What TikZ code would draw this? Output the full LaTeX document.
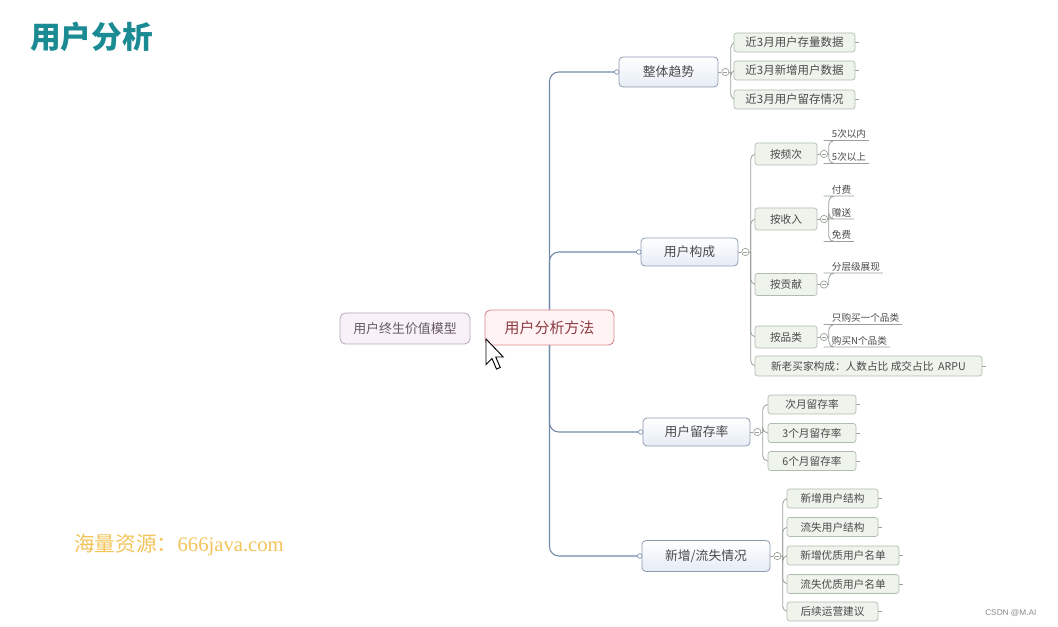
\documentclass[tikz,border=0pt]{standalone}
\usepackage{fontspec}
\setmainfont{Noto Sans CJK SC}
\newfontfamily\wmlatin{Liberation Serif}
\newfontfamily\csdnfont{Liberation Sans}
\usetikzlibrary{backgrounds}
\definecolor{titlec}{HTML}{1A8A93}
\definecolor{trunkc}{HTML}{7389A8}
\definecolor{mainb}{HTML}{8E9CB3}
\definecolor{mainf}{HTML}{E6ECF5}
\definecolor{leafb}{HTML}{AEBDAE}
\definecolor{leaff}{HTML}{EEF3EC}
\definecolor{linkc}{HTML}{98A298}
\definecolor{txt}{HTML}{4A4A4A}
\definecolor{rootb}{HTML}{D98A8F}
\definecolor{rootf}{HTML}{FFF3F3}
\definecolor{roott}{HTML}{8E3C44}
\definecolor{lvmb}{HTML}{B7A8BD}
\definecolor{lvmf}{HTML}{F8F1F8}
\definecolor{lvmt}{HTML}{665868}
\definecolor{wmk}{HTML}{F2C45A}
\tikzset{
  x=0.75pt, y=-0.75pt,
  mainbox/.style={draw=mainb, line width=0.6pt, rounded corners=3pt, top color=white, bottom color=mainf,
    inner sep=0pt, text=txt, font=\fontsize{9.6}{11}\selectfont},
  leafbox/.style={draw=leafb, line width=0.5pt, rounded corners=2pt, fill=leaff, inner sep=0pt,
    minimum height=14.25pt, text=txt, font=\fontsize{8}{9}\selectfont},
  subbox/.style={leafbox, minimum width=46.5pt, minimum height=16.5pt},
  sublabel/.style={anchor=south west, inner xsep=2pt, inner ysep=1.2pt, text=txt, font=\fontsize{7.2}{8}\selectfont},
  trunk/.style={draw=trunkc, line width=0.8pt, rounded corners=7pt},
  link/.style={draw=linkc, line width=0.6pt, rounded corners=4pt},
  knob/.style={circle, draw=linkc, line width=0.5pt, fill=white, inner sep=0pt, minimum size=5.5pt,
    path picture={\draw[linkc, line width=0.5pt] ([xshift=1.3pt]path picture bounding box.west) -- ([xshift=-1.3pt]path picture bounding box.east);}},
  dotend/.style={circle, draw=trunkc, line width=0.5pt, fill=white, inner sep=0pt, minimum size=3.5pt},
}
\begin{document}
\begin{tikzpicture}
\useasboundingbox (0,0) rectangle (1058,627);

% title
\node[anchor=west, inner sep=0pt, text=titlec, font=\fontsize{23}{25}\selectfont\bfseries] (title) at (30,37) {用户分析};

% left and root
\node[draw=lvmb, fill=lvmf, line width=0.6pt, rounded corners=4pt, minimum width=97.5pt, minimum height=23.25pt,
  inner sep=0pt, text=lvmt, font=\fontsize{9.7}{11}\selectfont] (lvm) at (405,328.5) {用户终生价值模型};
\node[draw=rootb, fill=rootf, line width=0.7pt, rounded corners=4pt, minimum width=96.75pt, minimum height=26.25pt,
  inner sep=0pt, text=roott, font=\fontsize{11.2}{13}\selectfont] (root) at (549.5,327.5) {用户分析方法};

% main branches
\node[mainbox, minimum width=74.25pt, minimum height=22.5pt] (b1) at (668.5,72) {整体趋势};
\node[mainbox, minimum width=72.75pt, minimum height=21pt] (b2) at (689.5,252) {用户构成};
\node[mainbox, minimum width=80.25pt, minimum height=21pt] (b3) at (696.5,432) {用户留存率};
\node[mainbox, minimum width=96pt, minimum height=23.25pt] (b4) at (706,556) {新增/流失情况};

\foreach \b in {1,2,3,4}{
  \node[dotend] (d\b) at ([xshift=-1.4pt]b\b.west) {};
  \node[knob] (k\b) at ([xshift=5.2pt]b\b.east) {};
  \coordinate (j\b) at ([xshift=4pt]k\b.center);
}

% leaves of b1
\node[leafbox, minimum width=90.75pt, font=\fontsize{8.6}{10}\selectfont] (l11) at (794.5,42.5) {近3月用户存量数据};
\node[leafbox, minimum width=90.75pt, font=\fontsize{8.6}{10}\selectfont] (l12) at (794.5,70.5) {近3月新增用户数据};
\node[leafbox, minimum width=90.75pt, font=\fontsize{8.6}{10}\selectfont] (l13) at (794.5,99.5) {近3月用户留存情况};

% children of b2
\node[subbox] (s1) at (786,154) {按频次};
\node[subbox] (s2) at (786,219) {按收入};
\node[subbox] (s3) at (786,284.5) {按贡献};
\node[subbox] (s4) at (786,337) {按品类};
\node[leafbox, minimum width=170.25pt, minimum height=15pt] (s5) at (868.5,366) {新老买家构成：人数占比 成交占比 \ ARPU};
\foreach \s in {1,2,3,4}{
  \node[knob] (sk\s) at ([xshift=5pt]s\s.east) {};
  \coordinate (sj\s) at ([xshift=3.6pt]sk\s.center);
}
\node[sublabel] (t11) at (829,140.5) {5次以内};
\node[sublabel] (t12) at (829,163.5) {5次以上};
\node[sublabel] (t21) at (829,196) {付费};
\node[sublabel] (t22) at (829,219) {赠送};
\node[sublabel] (t23) at (829,241.5) {免费};
\node[sublabel] (t31) at (829,273) {分层级展现};
\node[sublabel] (t41) at (829,324.5) {只购买一个品类};
\node[sublabel] (t42) at (829,347) {购买N个品类};

% leaves of b3
\node[leafbox, minimum width=66pt] (l31) at (812,404.5) {次月留存率};
\node[leafbox, minimum width=66pt] (l32) at (812,433) {3个月留存率};
\node[leafbox, minimum width=66pt] (l33) at (812,461) {6个月留存率};

% leaves of b4
\node[leafbox, minimum width=68.25pt] (l41) at (832.5,498.5) {新增用户结构};
\node[leafbox, minimum width=68.25pt] (l42) at (832.5,527) {流失用户结构};
\node[leafbox, minimum width=84pt] (l43) at (843,555.5) {新增优质用户名单};
\node[leafbox, minimum width=84pt] (l44) at (843,584) {流失优质用户名单};
\node[leafbox, minimum width=68.25pt] (l45) at (832.5,611.5) {后续运营建议};

% watermarks
\node[anchor=west, inner sep=0pt, text=wmk, font=\fontsize{15.5}{17}\selectfont] (wm) at (74,545) {海量资源：{\wmlatin 666java.com}};
\node[anchor=west, inner sep=0pt, text=black!45, font=\csdnfont\fontsize{6.2}{7}\selectfont] (csdn) at (985,613) {CSDN @M.AI};

% cursor
\draw[fill=white, line width=0.7pt, line join=miter, shift={(486,339)}, scale=1.5]
  (0,0) -- (0,17) -- (4,13) -- (7,20) -- (9.5,19) -- (6.5,12) -- (11.5,12) -- cycle;

\begin{scope}[on background layer]
  \fill[white] (0,0) rectangle (1058,627);
  % trunk
  \draw[trunk] (d1.west) -| (root.center) |- (d4.west);
  \draw[trunk] (root.center) |- (d2.west);
  \draw[trunk] (root.center) |- (d3.west);
  % branch to knobs
  \foreach \b in {1,2,3,4}{
    \draw[link] (b\b.east) -- (k\b.west);
    \draw[link] (k\b.east) -- (j\b);
  }
  \foreach \l in {11,12,13}{ \draw[link] (j1) |- (l\l.west); \draw[link] (l\l.east) -- ++(2.5pt,0); }
  \foreach \l in {1,2,3,4,5}{ \draw[link] (j2) |- (s\l.west); }
  \draw[link] (s5.east) -- ++(2.5pt,0);
  \foreach \s in {1,2,3,4}{ \draw[link] (s\s.east) -- (sk\s.west); \draw[link] (sk\s.east) -- (sj\s); }
  \foreach \t in {11,12}{ \draw[link] (sj1) |- (t\t.south west) -- (t\t.south east); }
  \foreach \t in {21,22,23}{ \draw[link] (sj2) |- (t\t.south west) -- (t\t.south east); }
  \draw[link] (sj3) |- (t31.south west) -- (t31.south east);
  \foreach \t in {41,42}{ \draw[link] (sj4) |- (t\t.south west) -- (t\t.south east); }
  \foreach \l in {31,32,33}{ \draw[link] (j3) |- (l\l.west); \draw[link] (l\l.east) -- ++(2.5pt,0); }
  \foreach \l in {41,42,43,44,45}{ \draw[link] (j4) |- (l\l.west); \draw[link] (l\l.east) -- ++(2.5pt,0); }
\end{scope}
\end{tikzpicture}
\end{document}
